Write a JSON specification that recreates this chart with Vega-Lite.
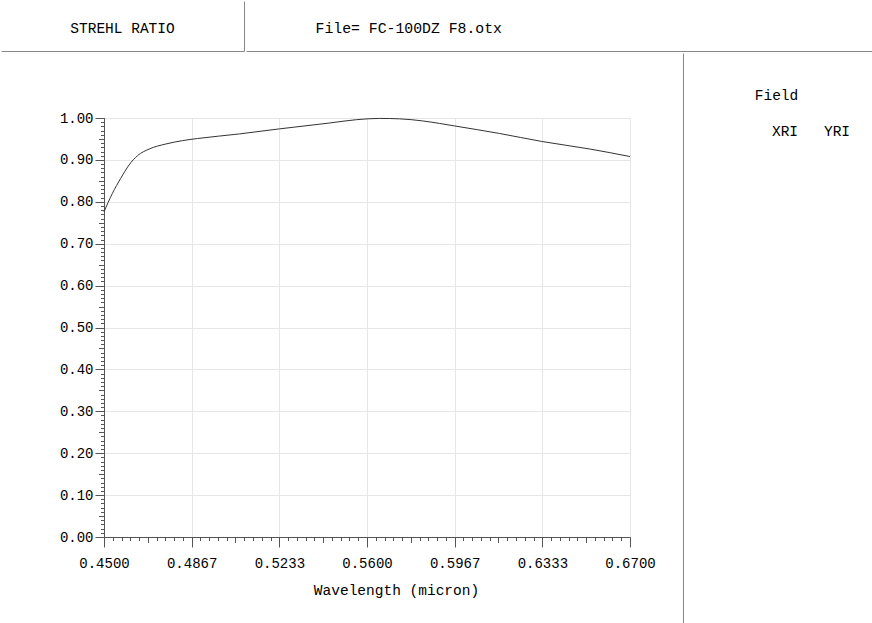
{
  "$schema": "https://vega.github.io/schema/vega-lite/v6.json",
  "padding": 0,
  "spacing": 0,
  "config": {
    "view": {"stroke": null},
    "axis": {
      "labelFont": "Liberation Mono",
      "labelFontSize": 14,
      "labelColor": "#000",
      "labelFlush": false,
      "labelOverlap": false,
      "titleFont": "Liberation Mono",
      "titleFontSize": 14.5,
      "titleFontWeight": "normal",
      "titleColor": "#000",
      "domainColor": "#555",
      "tickColor": "#555",
      "gridColor": "#e6e6e6"
    },
    "text": {"font": "Liberation Mono", "fontSize": 14.5, "color": "#000"}
  },
  "vconcat": [
    {
      "spacing": 0,
      "hconcat": [
        {
          "width": 243,
          "height": 50,
          "view": {"stroke": "#888", "strokeWidth": 1, "strokeDash": [0, 243, 293, 50]},
          "data": {"values": [{"t": "STREHL RATIO"}]},
          "mark": {"type": "text", "dy": 3},
          "encoding": {"text": {"field": "t"}}
        },
        {
          "width": 628,
          "height": 50,
          "view": {"stroke": "#888", "strokeWidth": 1, "strokeDash": [0, 678, 628, 50]},
          "data": {"values": [{"t": "File= FC-100DZ F8.otx"}]},
          "mark": {"type": "text", "align": "left", "dx": -244.5, "dy": 3, "fontSize": 14.8},
          "encoding": {"text": {"field": "t"}}
        }
      ]
    },
    {
      "spacing": 0,
      "hconcat": [
        {
          "spacing": 0,
          "vconcat": [
            {"width": 681, "height": 57.5, "data": {"values": []}, "mark": "point"},
            {
              "spacing": 0,
              "hconcat": [
                {"width": 57.4, "height": 1, "data": {"values": []}, "mark": "point"},
                {
                  "width": 526,
                  "height": 419,
                  "data": {
                    "values": [
                      {"wl": 0.4500, "sr": 0.776},
                      {"wl": 0.4535, "sr": 0.820},
                      {"wl": 0.4570, "sr": 0.856},
                      {"wl": 0.4605, "sr": 0.888},
                      {"wl": 0.4640, "sr": 0.910},
                      {"wl": 0.4689, "sr": 0.926},
                      {"wl": 0.4759, "sr": 0.938},
                      {"wl": 0.4828, "sr": 0.946},
                      {"wl": 0.4891, "sr": 0.951},
                      {"wl": 0.5066, "sr": 0.962},
                      {"wl": 0.5233, "sr": 0.974},
                      {"wl": 0.5443, "sr": 0.988},
                      {"wl": 0.5556, "sr": 0.996},
                      {"wl": 0.5652, "sr": 0.999},
                      {"wl": 0.5736, "sr": 0.998},
                      {"wl": 0.5833, "sr": 0.993},
                      {"wl": 0.5904, "sr": 0.987},
                      {"wl": 0.5967, "sr": 0.981},
                      {"wl": 0.6155, "sr": 0.963},
                      {"wl": 0.6331, "sr": 0.944},
                      {"wl": 0.6532, "sr": 0.926},
                      {"wl": 0.6700, "sr": 0.908}
                    ]
                  },
                  "layer": [
                    {
                      "mark": {"type": "line", "color": "#333", "strokeWidth": 1, "interpolate": "monotone"},
                      "encoding": {
                        "x": {
                          "field": "wl",
                          "type": "quantitative",
                          "scale": {"domain": [0.45, 0.67], "nice": false, "zero": false},
                          "axis": {
                            "orient": "bottom",
                            "values": [0.45, 0.486667, 0.523333, 0.56, 0.596667, 0.633333, 0.67],
                            "format": ".4f",
                            "tickSize": 10,
                            "labelPadding": 9,
                            "title": "Wavelength (micron)",
                            "titleX": 292,
                            "titleY": 53,
                            "titleBaseline": "middle"
                          }
                        },
                        "y": {
                          "field": "sr",
                          "type": "quantitative",
                          "scale": {"domain": [0, 1], "nice": false},
                          "axis": {
                            "orient": "left",
                            "tickCount": 10,
                            "format": ".2f",
                            "tickSize": 9,
                            "labelPadding": 2,
                            "title": null
                          }
                        }
                      }
                    },
                    {
                      "mark": {"type": "line", "opacity": 0},
                      "encoding": {
                        "x": {
                          "field": "wl",
                          "type": "quantitative",
                          "axis": {
                            "orient": "bottom",
                            "values": [0.453667, 0.457333, 0.461, 0.464667, 0.468333, 0.472, 0.475667, 0.479333, 0.483, 0.490333, 0.494, 0.497667, 0.501333, 0.505, 0.508667, 0.512333, 0.516, 0.519667, 0.527, 0.530667, 0.534333, 0.538, 0.541667, 0.545333, 0.549, 0.552667, 0.556333, 0.563667, 0.567333, 0.571, 0.574667, 0.578333, 0.582, 0.585667, 0.589333, 0.593, 0.600333, 0.604, 0.607667, 0.611333, 0.615, 0.618667, 0.622333, 0.626, 0.629667, 0.637, 0.640667, 0.644333, 0.648, 0.651667, 0.655333, 0.659, 0.662667, 0.666333],
                            "tickSize": 3.5,
                            "labels": false,
                            "grid": false,
                            "domain": false,
                            "title": null
                          }
                        },
                        "y": {
                          "field": "sr",
                          "type": "quantitative",
                          "axis": {
                            "orient": "left",
                            "tickCount": 100,
                            "tickSize": 3.5,
                            "labels": false,
                            "grid": false,
                            "domain": false,
                            "title": null
                          }
                        }
                      }
                    },
                    {
                      "mark": {"type": "line", "opacity": 0},
                      "encoding": {
                        "x": {
                          "field": "wl",
                          "type": "quantitative",
                          "axis": {
                            "orient": "bottom",
                            "values": [0.468333, 0.505, 0.541667, 0.578333, 0.615, 0.651667],
                            "tickSize": 5.5,
                            "labels": false,
                            "grid": false,
                            "domain": false,
                            "title": null
                          }
                        },
                        "y": {
                          "field": "sr",
                          "type": "quantitative",
                          "axis": {
                            "orient": "left",
                            "tickCount": 20,
                            "tickSize": 5.5,
                            "labels": false,
                            "grid": false,
                            "domain": false,
                            "title": null
                          }
                        }
                      }
                    }
                  ],
                  "resolve": {"axis": {"x": "independent", "y": "independent"}}
                },
                {"width": 23.8, "height": 1, "data": {"values": []}, "mark": "point"}
              ]
            },
            {"width": 681, "height": 28.75, "data": {"values": []}, "mark": "point"}
          ]
        },
        {
          "width": 191,
          "height": 573,
          "view": {"stroke": "#888", "strokeWidth": 1, "strokeDash": [0, 955, 573, 0]},
          "layer": [
            {
              "data": {"values": [{"t": "Field"}]},
              "mark": {"type": "text", "dx": -2, "dy": -243.5},
              "encoding": {"text": {"field": "t"}}
            },
            {
              "data": {"values": [{"t": "XRI"}]},
              "mark": {"type": "text", "dx": 6.5, "dy": -208},
              "encoding": {"text": {"field": "t"}}
            },
            {
              "data": {"values": [{"t": "YRI"}]},
              "mark": {"type": "text", "dx": 58.5, "dy": -208},
              "encoding": {"text": {"field": "t"}}
            }
          ]
        }
      ]
    }
  ]
}
